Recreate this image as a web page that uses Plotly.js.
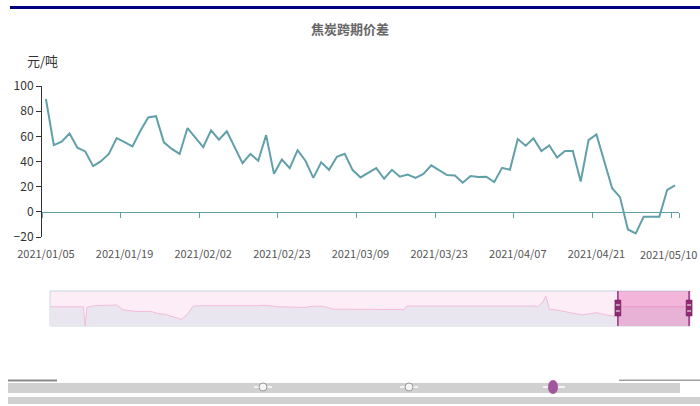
<!DOCTYPE html>
<html>
<head>
<meta charset="utf-8">
<script src="https://cdn.plot.ly/plotly-3.0.1.min.js"></script>
<style>html,body{margin:0;padding:0;background:#fff;}#chart{width:700px;height:406px;}</style>
</head>
<body>
<div id="chart"></div>
<script>
// ---- data ----
const dates = [
 "2021/01/05","2021/01/06","2021/01/07","2021/01/08","2021/01/11","2021/01/12","2021/01/13","2021/01/14","2021/01/15","2021/01/18",
 "2021/01/19","2021/01/20","2021/01/21","2021/01/22","2021/01/25","2021/01/26","2021/01/27","2021/01/28","2021/01/29","2021/02/01",
 "2021/02/02","2021/02/03","2021/02/04","2021/02/05","2021/02/08","2021/02/09","2021/02/10","2021/02/18","2021/02/19","2021/02/22",
 "2021/02/23","2021/02/24","2021/02/25","2021/02/26","2021/03/01","2021/03/02","2021/03/03","2021/03/04","2021/03/05","2021/03/08",
 "2021/03/09","2021/03/10","2021/03/11","2021/03/12","2021/03/15","2021/03/16","2021/03/17","2021/03/18","2021/03/19","2021/03/22",
 "2021/03/23","2021/03/24","2021/03/25","2021/03/26","2021/03/29","2021/03/30","2021/03/31","2021/04/01","2021/04/02","2021/04/06",
 "2021/04/07","2021/04/08","2021/04/09","2021/04/12","2021/04/13","2021/04/14","2021/04/15","2021/04/16","2021/04/19","2021/04/20",
 "2021/04/21","2021/04/22","2021/04/23","2021/04/26","2021/04/27","2021/04/28","2021/04/29","2021/04/30","2021/05/06","2021/05/07",
 "2021/05/10"
];
const spread = [
 89.7,53,55.7,62.3,51,48,36.3,40.3,46,58.6,
 55.4,52,64.2,75,76,55.2,50,46,66.6,59,
 51.5,64.7,57.3,64,51.2,38.7,46,40.6,61,30.2,
 41.6,34.7,49,40.6,27,39.3,33.4,43.8,46.2,33.2,
 27.3,31.3,34.7,26.3,33.4,27.9,29.7,27,30.2,36.9,
 33.2,29.2,28.9,23.1,28.4,27.6,27.9,23.6,35,33.4,
 57.8,52.5,58.4,48.3,52.8,43.2,48.3,48.3,24.1,57,
 61.5,41.1,18.8,11.7,-14,-17.2,-4,-4,-4,17.5,
 21
];
const labelEvery = 10;
const yTicks = [-20,0,20,40,60,80,100];
// overview (data-zoom shadow) of the full history
const shadowIndex = [0,19,37,39,41,49,64,74,81,94,113,119,129,133,146,153,159,169,229,239,253,283,293,303,315,333,393,395,397,537,541,547,550,554,566,581,591,606,621,626,632,710];
const shadowValue = [55,55,55,0,53,58,60,60,46,42,41,36,33,29,19,36,57,58,58,59,55,53,57,56,48,48,47,55,57,57,55,69,86,48,44,36,32,38,31,27,55,55];
const windowStartIdx = 630, windowEndIdx = 709, fullLength = 710;

// ---- layout helpers (pixel -> paper, margins are 0) ----
const W = 700, H = 406;
const px = x => x / W;
const py = y => 1 - y / H;
const teal = '#61a0a8';

const idx = dates.map((d, i) => i);
const tickIdx = idx.filter(i => i % labelEvery === 0);
const lastIdx = tickIdx[tickIdx.length - 1];
const axisTickIdx = tickIdx.slice(0, -1);
const boundaryTicks = tickIdx.map(i => i - 0.5).concat([dates.length - 0.5]);
const xr = [-0.5, dates.length - 0.5];
const yr = [yTicks[0], yTicks[yTicks.length - 1]];
const yDom = [py(237), py(86)];
const zeroPos = yDom[0] + (yDom[1] - yDom[0]) * (0 - yr[0]) / (yr[1] - yr[0]);

const traces = [
  {x: idx, y: spread, type: 'scatter', mode: 'lines', xaxis: 'x', yaxis: 'y',
   line: {color: teal, width: 2}, hoverinfo: 'skip', showlegend: false},
  {x: idx, y: spread, type: 'scatter', mode: 'lines', xaxis: 'x2', yaxis: 'y',
   line: {color: 'rgba(0,0,0,0)', width: 0}, hoverinfo: 'skip', showlegend: false},
  {x: shadowIndex, y: shadowValue, type: 'scatter', mode: 'lines', xaxis: 'x3', yaxis: 'y3',
   fill: 'tozeroy', fillcolor: '#e9e6f0', line: {color: '#f4bcd9', width: 1}, hoverinfo: 'skip', showlegend: false}
];

const font = "'Liberation Sans Narrow', 'Noto Sans CJK SC', sans-serif";
const shapes = [
  // top navy rule
  {type: 'rect', xref: 'paper', yref: 'paper', x0: px(10), x1: px(700), y0: py(6), y1: py(9), fillcolor: '#000080', line: {width: 0}},
  // data zoom slider background
  {type: 'rect', xref: 'paper', yref: 'paper', x0: px(50), x1: px(690), y0: py(326), y1: py(291), fillcolor: '#fdedf7', line: {color: '#c6d8e4', width: 1}, layer: 'below'},
  // selected window
  {type: 'rect', xref: 'x3', yref: 'paper', x0: windowStartIdx, x1: windowEndIdx, y0: py(326), y1: py(291), fillcolor: 'rgba(228,100,175,0.4)', line: {width: 0}},
  {type: 'line', xref: 'x3', yref: 'paper', x0: windowStartIdx, x1: windowStartIdx, y0: py(326), y1: py(291), line: {color: '#9c2f7e', width: 1.5}},
  {type: 'line', xref: 'x3', yref: 'paper', x0: windowEndIdx, x1: windowEndIdx, y0: py(326), y1: py(291), line: {color: '#9c2f7e', width: 1.5}},
  // bottom gray band (legend area)
  {type: 'rect', xref: 'paper', yref: 'paper', x0: px(8), x1: px(57), y0: py(381.5), y1: py(379.5), fillcolor: '#8a8a8a', line: {width: 0}},
  {type: 'rect', xref: 'paper', yref: 'paper', x0: px(619), x1: px(700), y0: py(381), y1: py(379.5), fillcolor: '#a0a0a0', line: {width: 0}},
  {type: 'rect', xref: 'paper', yref: 'paper', x0: px(8), x1: px(680), y0: py(393), y1: py(383), fillcolor: '#d0d0d0', line: {width: 0}},
  {type: 'rect', xref: 'paper', yref: 'paper', x0: px(8), x1: px(700), y0: py(404), y1: py(397), fillcolor: '#d0d0d0', line: {width: 0}},
  {type: 'line', xref: 'paper', yref: 'paper', x0: px(254), x1: px(272), y0: py(387), y1: py(387), line: {color: '#ffffff', width: 1.5}},
  {type: 'circle', xref: 'paper', yref: 'paper', x0: px(259), x1: px(267), y0: py(391), y1: py(383), fillcolor: '#f4f4f4', line: {color: '#9a9a9a', width: 1}},
  {type: 'line', xref: 'paper', yref: 'paper', x0: px(400), x1: px(418), y0: py(387), y1: py(387), line: {color: '#ffffff', width: 1.5}},
  {type: 'circle', xref: 'paper', yref: 'paper', x0: px(405), x1: px(413), y0: py(391), y1: py(383), fillcolor: '#f4f4f4', line: {color: '#9a9a9a', width: 1}},
  {type: 'line', xref: 'paper', yref: 'paper', x0: px(543), x1: px(565), y0: py(387), y1: py(387), line: {color: '#ffffff', width: 1.5}},
  {type: 'circle', xref: 'paper', yref: 'paper', x0: px(548), x1: px(558), y0: py(394), y1: py(380), fillcolor: '#a2579c', line: {width: 0}}
];
// slider handles
[windowStartIdx, windowEndIdx].forEach(v => {
  const cx = 50 + (v / fullLength) * 640;
  shapes.push({type: 'rect', xref: 'paper', yref: 'paper', x0: px(cx - 3), x1: px(cx + 3), y0: py(316), y1: py(300), fillcolor: '#8e2c72', line: {color: '#6a1f55', width: 0.5}});
  shapes.push({type: 'line', xref: 'paper', yref: 'paper', x0: px(cx - 2), x1: px(cx + 2), y0: py(305), y1: py(305), line: {color: '#ffffff', width: 1}});
  shapes.push({type: 'line', xref: 'paper', yref: 'paper', x0: px(cx - 2), x1: px(cx + 2), y0: py(311), y1: py(311), line: {color: '#ffffff', width: 1}});
});

const layout = {
  width: W, height: H,
  margin: {l: 0, r: 0, t: 0, b: 0},
  paper_bgcolor: '#ffffff', plot_bgcolor: 'rgba(0,0,0,0)',
  showlegend: false,
  title: {text: '<b>焦炭跨期价差</b>', x: 0.5, xref: 'paper', xanchor: 'center', y: py(29), yref: 'paper', yanchor: 'middle',
          font: {family: "'Noto Sans CJK SC', sans-serif", size: 13, color: '#666666'}},
  xaxis: {domain: [px(42), px(679)], anchor: 'y', range: xr, showgrid: false, zeroline: false, showline: false,
          tickmode: 'array', tickvals: axisTickIdx, ticktext: axisTickIdx.map(i => dates[i]),
          ticks: 'outside', ticklen: 7, tickcolor: 'rgba(0,0,0,0)',
          tickfont: {family: font, size: 11, color: '#555555'}},
  xaxis2: {overlaying: 'x', anchor: 'free', position: zeroPos, range: xr, showgrid: false, zeroline: false,
           showline: true, linecolor: teal, linewidth: 1.5,
           tickmode: 'array', tickvals: boundaryTicks, ticks: 'outside', ticklen: 5, tickcolor: teal, tickwidth: 1,
           showticklabels: false},
  yaxis: {domain: yDom, anchor: 'x', range: yr, tickmode: 'array', tickvals: yTicks,
          showgrid: false, zeroline: false, showline: true, linecolor: '#333333', linewidth: 1,
          ticks: 'outside', ticklen: 5, tickcolor: '#333333',
          tickfont: {family: font, size: 12, color: '#333333'}},
  xaxis3: {domain: [px(50), px(690)], anchor: 'y3', range: [0, fullLength], visible: false, fixedrange: true},
  yaxis3: {domain: [py(326), py(291)], anchor: 'x3', range: [0, 100], visible: false, fixedrange: true},
  shapes: shapes,
  annotations: [
    {text: '元/吨', xref: 'paper', yref: 'paper', x: px(42), y: py(60), xanchor: 'center', yanchor: 'middle', showarrow: false,
     font: {family: "'Noto Sans CJK SC', sans-serif", size: 13, color: '#333333'}},
    {text: dates[lastIdx], xref: 'paper', yref: 'paper', x: px(699), y: py(254), xanchor: 'right', yanchor: 'middle', showarrow: false,
     font: {family: font, size: 11, color: '#555555'}}
  ]
};

Plotly.newPlot('chart', traces, layout, {staticPlot: true, displayModeBar: false});
</script>
</body>
</html>
